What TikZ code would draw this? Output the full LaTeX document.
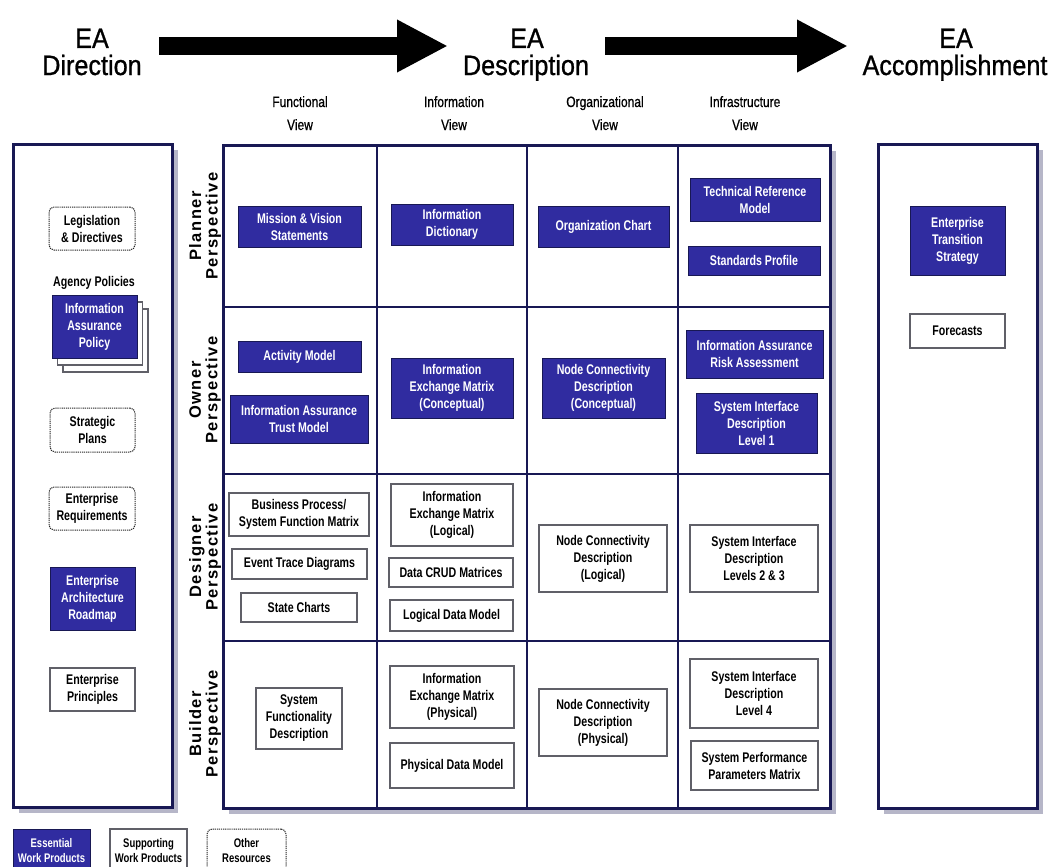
\documentclass[tikz,border=0pt]{standalone}
\usepackage{fontspec}
\setmainfont{Liberation Sans}
\newfontfamily\titlefont[FakeStretch=0.9,FakeBold=0.9]{Liberation Sans}
\newfontfamily\headfont[FakeStretch=0.8,FakeBold=0.7]{Liberation Sans}
\newfontfamily\boxfont[FakeStretch=0.76]{Liberation Sans}
\newfontfamily\rowfont[LetterSpace=9]{Liberation Sans}
\usetikzlibrary{arrows.meta}

\definecolor{gridnavy}{RGB}{24,24,84}
\definecolor{essblue}{RGB}{48,44,160}
\definecolor{shadowgray}{RGB}{182,182,200}
\definecolor{boxgray}{RGB}{96,96,104}

\newcommand\boxtext{\boxfont\bfseries\fontsize{14}{17}\selectfont}
\newcommand\legendtext{\boxfont\bfseries\fontsize{12.5}{15}\selectfont}

\begin{document}
\begin{tikzpicture}[x=1pt,y=-1pt,
  sz/.style 2 args={minimum width=#1pt, minimum height=#2pt},
  ess/.style={draw=gridnavy, line width=0.8pt, fill=essblue, text=white,
    font=\boxtext, align=center, inner sep=0pt},
  sup/.style={draw=boxgray, line width=1.4pt, fill=white, text=black,
    font=\boxtext, align=center, inner sep=0pt},
  oth/.style={draw=black!85, line width=1pt, dash pattern=on 1.2pt off 0.9pt,
    rounded corners=5pt, fill=white, text=black, font=\boxtext,
    align=center, inner sep=0pt},
  page/.style={draw=boxgray, line width=1.2pt, fill=white, inner sep=0pt},
  title/.style={font=\titlefont\fontsize{28}{28}\selectfont, anchor=base, inner sep=0pt},
  head/.style={font=\headfont\fontsize{15}{15}\selectfont, anchor=base, inner sep=0pt},
  rowlabel/.style={font=\rowfont\bfseries\fontsize{16.5}{16.5}\selectfont,
    align=center, rotate=90, inner sep=0pt},
  panel/.style={draw=gridnavy, line width=3pt, fill=white},
  shade/.style={fill=shadowgray},
  bigarrow/.style={line width=18pt, -{Triangle[length=51pt,width=49pt]}}
]
\useasboundingbox (0,0) rectangle (1055,867);
\clip (0,0) rectangle (1055,867);
\fill[white] (0,0) rectangle (1055,867);

% ---------- headings and the two block arrows ----------
\node[title] (dirA) at (92,48) {EA};
\node[title] (dirB) at (92,75) {Direction};
\node[title] (descA) at (527,48) {EA};
\node[title] (descB) at (526,75) {Description};
\node[title] (accA) at (956,48) {EA};
\node[title] (accB) at (955,75) {Accomplishment};

\coordinate (arr1s) at (159,46);
\coordinate (arr1e) at (448,46);
\coordinate (arr2s) at (605,46);
\coordinate (arr2e) at (848,46);
\draw[bigarrow] (arr1s) -- (arr1e);
\draw[bigarrow] (arr2s) -- (arr2e);

% ---------- column headings ----------
\node[head] (fvA) at (300,107) {Functional};
\node[head] (fvB) at (300,130) {View};
\node[head] (ivA) at (454,107) {Information};
\node[head] (ivB) at (454,130) {View};
\node[head] (ovA) at (605,107) {Organizational};
\node[head] (ovB) at (605,130) {View};
\node[head] (xvA) at (745,107) {Infrastructure};
\node[head] (xvB) at (745,130) {View};

% ---------- panels with drop shadows ----------
\fill[shade] (19,150) rectangle (178,813);
\fill[shade] (229,151) rectangle (836,814);
\fill[shade] (884,150) rectangle (1043,814);
\draw[panel] (13,144) rectangle (172,807);
\draw[panel] (878,144) rectangle (1037,808);
\draw[panel] (223,145) rectangle (830,808);

% grid lines of the matrix
\draw[gridnavy, line width=2.5pt]
  (377,145) -- (377,808)
  (527,145) -- (527,808)
  (678,145) -- (678,808)
  (223,307) -- (830,307)
  (223,474) -- (830,474)
  (223,641) -- (830,641);

% ---------- row labels ----------
\node[rowlabel] (planner) at (205,226) {Planner\\Perspective};
\node[rowlabel] (owner) at (205,390) {Owner\\Perspective};
\node[rowlabel] (designer) at (205,557) {Designer\\Perspective};
\node[rowlabel] (builder) at (205,724) {Builder\\Perspective};

% ---------- direction panel ----------
\node[oth, sz={86}{43}] (legis) at (92,228.5) {Legislation\\\& Directives};
\node[font=\boxtext, text=black, inner sep=0pt] (agency) at (94,283) {Agency Policies};
\node[page, sz={85}{63}] (iapB) at (105.5,340.5) {};
\node[page, sz={85}{63}] (iapA) at (100,333.5) {};
\node[ess, sz={85}{63}] (iap) at (94.5,326.5) {Information\\Assurance\\Policy};
\node[oth, sz={85}{44}] (strat) at (92.5,430) {Strategic\\Plans};
\node[oth, sz={86}{43}] (entreq) at (92,508.5) {Enterprise\\Requirements};
\node[ess, sz={85}{63}] (earoad) at (92.5,598.5) {Enterprise\\Architecture\\Roadmap};
\node[sup, sz={85}{43}] (entprin) at (92.5,689.5) {Enterprise\\Principles};

% ---------- planner row ----------
\node[ess, sz={123}{41}] (mission) at (299.5,226.5) {Mission \& Vision\\Statements};
\node[ess, sz={122}{41}] (infodict) at (452,224.5) {Information\\Dictionary};
\node[ess, sz={131}{41}] (orgchart) at (603.5,226.5) {Organization Chart};
\node[ess, sz={130}{43}] (techref) at (755,199.5) {Technical Reference\\Model};
\node[ess, sz={132}{29}] (stdprof) at (754,260.5) {Standards Profile};

% ---------- owner row ----------
\node[ess, sz={123}{31}] (activity) at (299.5,356.5) {Activity Model};
\node[ess, sz={138}{48}] (iatrust) at (299,419) {Information Assurance\\Trust Model};
\node[ess, sz={122}{60}] (iemconc) at (452,388) {Information\\Exchange Matrix\\(Conceptual)};
\node[ess, sz={123}{60}] (ncdconc) at (603.5,388) {Node Connectivity\\Description\\(Conceptual)};
\node[ess, sz={137}{48}] (iarisk) at (754.5,354) {Information Assurance\\Risk Assessment};
\node[ess, sz={121}{60}] (sidone) at (756.5,423) {System Interface\\Description\\Level 1};

% ---------- designer row ----------
\node[sup, sz={140}{43}] (bpsf) at (299,514.5) {Business Process/\\System Function Matrix};
\node[sup, sz={135}{30}] (etd) at (299.5,564) {Event Trace Diagrams};
\node[sup, sz={116}{29}] (statech) at (299,607.5) {State Charts};
\node[sup, sz={122}{62}] (iemlog) at (452,515) {Information\\Exchange Matrix\\(Logical)};
\node[sup, sz={124}{29}] (crud) at (451,572.5) {Data CRUD Matrices};
\node[sup, sz={123}{31}] (ldm) at (451.5,615.5) {Logical Data Model};
\node[sup, sz={128}{67}] (ncdlog) at (603,558.5) {Node Connectivity\\Description\\(Logical)};
\node[sup, sz={128}{67}] (sidtwo) at (754,558.5) {System Interface\\Description\\Levels 2 \& 3};

% ---------- builder row ----------
\node[sup, sz={86}{61}] (sfd) at (299,718.5) {System\\Functionality\\Description};
\node[sup, sz={124}{62}] (iemphys) at (452,697) {Information\\Exchange Matrix\\(Physical)};
\node[sup, sz={124}{45}] (pdm) at (452,765.5) {Physical Data Model};
\node[sup, sz={128}{67}] (ncdphys) at (603,722.5) {Node Connectivity\\Description\\(Physical)};
\node[sup, sz={128}{69}] (sidfour) at (754,693.5) {System Interface\\Description\\Level 4};
\node[sup, sz={127}{49}] (sppm) at (754.5,765.5) {System Performance\\Parameters Matrix};

% ---------- accomplishment panel ----------
\node[ess, sz={95}{69}] (ets) at (957.5,240.5) {Enterprise\\Transition\\Strategy};
\node[sup, sz={95}{34}] (forecasts) at (957.5,331) {Forecasts};

% ---------- legend ----------
\node[ess, sz={77}{43}, font=\legendtext] (legess) at (51.5,850.5) {Essential\\Work Products};
\node[sup, sz={77}{43}, font=\legendtext] (legsup) at (148.5,850.5) {Supporting\\Work Products};
\node[oth, sz={79}{43}, font=\legendtext] (legoth) at (246.5,850.5) {Other\\Resources};
\end{tikzpicture}
\end{document}
